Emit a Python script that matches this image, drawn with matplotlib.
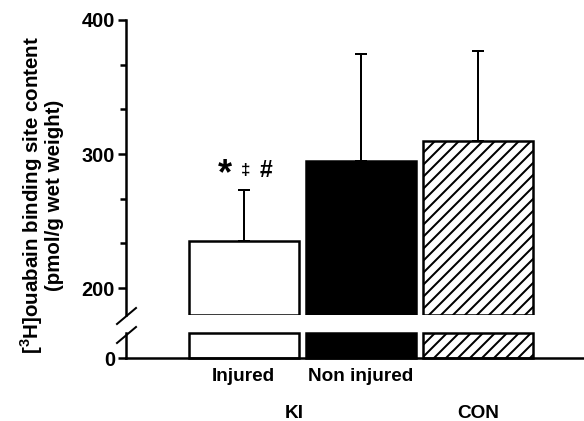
import matplotlib
matplotlib.use("Agg")
import matplotlib.pyplot as plt

plt.rcParams['font.family'] = ['Liberation Sans', 'DejaVu Sans']
plt.rcParams['font.weight'] = 'bold'
plt.rcParams['mathtext.fontset'] = 'custom'
plt.rcParams['mathtext.rm'] = 'Liberation Sans:bold'
plt.rcParams['mathtext.bf'] = 'Liberation Sans:bold'
plt.rcParams['hatch.linewidth'] = 2.0

# data (pmol/g wet weight)
groups = ["Injured", "Non injured", "CON"]
means = [235, 295, 310]
sems = [38, 80, 67]
fills = ["white", "black", "white"]
hatches = [None, None, "//"]
group_labels = ["KI", "CON"]
group_pos = [0.43, 2]
marks = ["*", "\u2021", "#"]

# broken axis ranges
TOP_LO, TOP_HI = 180, 400
LOW_MAX = 18.66

DPI = 72
fig = plt.figure(figsize=(584 / DPI, 421 / DPI), dpi=DPI)
ax = fig.add_axes([0.2158, 0.2518, 0.7842, 0.7007])
axl = fig.add_axes([0.2158, 0.1496, 0.7842, 0.0594])

x = list(range(len(groups)))
w = 0.94

for i in x:
    ax.bar(i, means[i] - TOP_LO, bottom=TOP_LO, width=w, color=fills[i],
           edgecolor="black", linewidth=2.5, hatch=hatches[i], zorder=2)
    ax.errorbar(i, means[i], yerr=[[0], [sems[i]]], fmt="none", ecolor="black",
                elinewidth=2, capsize=6, capthick=2, zorder=1)
    axl.bar(i, LOW_MAX, width=w, color=fills[i], edgecolor="black",
            linewidth=2.5, hatch=hatches[i], clip_on=False, zorder=2)

for a in (ax, axl):
    a.set_xlim(-1.004, 2.906)
    a.spines['top'].set_visible(False)
    a.spines['right'].set_visible(False)
    a.spines['left'].set_linewidth(2.5)
    a.spines['bottom'].set_linewidth(2.5)
    a.tick_params(axis='y', which='major', length=8, width=2.5, labelsize=20, pad=3)
    a.tick_params(axis='y', which='minor', length=6, width=2.5)

ax.spines['bottom'].set_visible(False)
ax.set_ylim(TOP_LO, TOP_HI)
ax.set_yticks([200, 300, 400])
ax.set_yticks([233.33, 266.67, 333.33, 366.67], minor=True)
ax.set_xticks([])

axl.set_ylim(0, LOW_MAX)
axl.set_yticks([0])
axl.set_xticks(x[:2])
axl.set_xticklabels(groups[:2], fontsize=19, fontweight='bold')
axl.tick_params(axis='x', length=0, pad=10)

for p, lab in zip(group_pos, group_labels):
    axl.text(p, 1 - 413 / 421, lab,
             transform=matplotlib.transforms.blended_transform_factory(axl.transData, fig.transFigure),
             ha='center', va='center', fontsize=19, fontweight='bold')

# break marks on the y axis
for yb in (316, 335):
    fig.add_artist(plt.Line2D([117 / 584, 136 / 584],
                              [1 - (yb + 8) / 421, 1 - (yb - 8) / 421],
                              color="black", linewidth=2, transform=fig.transFigure))

# significance marks above the injured bar
ax.text(-0.16, 285, marks[0], ha='center', va='center', fontsize=36, fontweight='bold')
ax.text(0.02, 288, marks[1], ha='center', va='center', fontsize=17, fontweight='bold')
ax.text(0.19, 288, marks[2], ha='center', va='center', fontsize=23, fontweight='bold')

fig.text(41 / 584, 1 - 195 / 421,
         "[$^{3}$H]ouabain binding site content\n(pmol/g wet weight)",
         rotation=90, ha='center', va='center', multialignment='center',
         fontsize=20.5, fontweight='bold', linespacing=1.0)

fig.savefig("out.png", dpi=DPI)
